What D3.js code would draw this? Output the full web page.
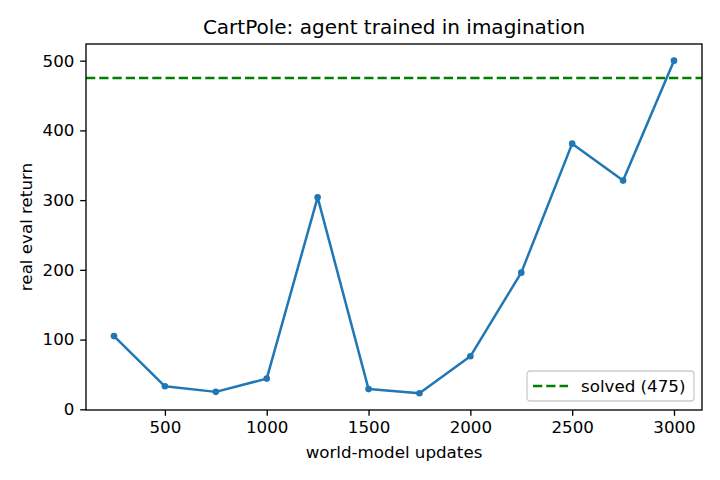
<!DOCTYPE html>
<html>
<head>
<meta charset="utf-8">
<script src="https://cdn.jsdelivr.net/npm/d3@7"></script>
<style>
  html, body { margin: 0; padding: 0; background: #fff; }
  svg { display: block; font-family: "DejaVu Sans", sans-serif; }
</style>
</head>
<body>
<div id="chart"></div>
<script>
// data
const updates = [250, 500, 750, 1000, 1250, 1500, 1750, 2000, 2250, 2500, 2750, 3000];
const returns = [105, 33, 25, 44, 304, 29, 23, 76, 196, 381, 328, 500];
const solvedLevel = 475;
const xTicks = [500, 1000, 1500, 2000, 2500, 3000];
const yTicks = [0, 100, 200, 300, 400, 500];

const width = 720, height = 480;
const margin = { top: 44, right: 18, bottom: 70, left: 86 };

const svg = d3.select("#chart").append("svg")
  .attr("width", width)
  .attr("height", height);

const x = d3.scaleLinear()
  .domain([112.5, 3137.5])
  .range([margin.left, width - margin.right]);

const y = d3.scaleLinear()
  .domain([-1, 523.9])
  .range([height - margin.bottom, margin.top]);

const blue = "#1f77b4";
const fs = "16.7px";

// axes
const xAxis = svg.append("g")
  .attr("transform", `translate(0,${height - margin.bottom})`)
  .call(d3.axisBottom(x).tickValues(xTicks).tickFormat(d3.format("d"))
    .tickSize(5.8).tickPadding(5.8).tickSizeOuter(0));

const yAxis = svg.append("g")
  .attr("transform", `translate(${margin.left},0)`)
  .call(d3.axisLeft(y).tickValues(yTicks).tickFormat(d3.format("d"))
    .tickSize(5.8).tickPadding(5.8).tickSizeOuter(0));

[xAxis, yAxis].forEach(g => {
  g.select(".domain").remove();
  g.selectAll(".tick line").attr("stroke", "#000").attr("stroke-width", 1.33);
  g.selectAll(".tick text")
    .attr("fill", "#000")
    .style("font-size", fs)
    .style("font-family", "DejaVu Sans");
});

// solved line
svg.append("line")
  .attr("x1", margin.left)
  .attr("x2", width - margin.right)
  .attr("y1", y(solvedLevel))
  .attr("y2", y(solvedLevel))
  .attr("stroke", "green")
  .attr("stroke-width", 2.5)
  .attr("stroke-dasharray", "9.25,4");

// series
const line = d3.line()
  .x((d, i) => x(updates[i]))
  .y(d => y(d));

svg.append("path")
  .datum(returns)
  .attr("fill", "none")
  .attr("stroke", blue)
  .attr("stroke-width", 2.5)
  .attr("stroke-linejoin", "round")
  .attr("d", line);

svg.selectAll(".dot")
  .data(returns)
  .enter()
  .append("circle")
  .attr("class", "dot")
  .attr("cx", (d, i) => x(updates[i]))
  .attr("cy", d => y(d))
  .attr("r", 3.3)
  .attr("fill", blue);

// frame
svg.append("rect")
  .attr("x", margin.left)
  .attr("y", margin.top)
  .attr("width", width - margin.left - margin.right)
  .attr("height", height - margin.top - margin.bottom)
  .attr("fill", "none")
  .attr("stroke", "#000")
  .attr("stroke-width", 1.33);

// title and labels
svg.append("text")
  .attr("x", (margin.left + width - margin.right) / 2)
  .attr("y", 34)
  .attr("text-anchor", "middle")
  .style("font-size", "20px")
  .text("CartPole: agent trained in imagination");

svg.append("text")
  .attr("x", (margin.left + width - margin.right) / 2)
  .attr("y", 458)
  .attr("text-anchor", "middle")
  .style("font-size", fs)
  .text("world-model updates");

svg.append("text")
  .attr("transform", `translate(32,${(margin.top + height - margin.bottom) / 2}) rotate(-90)`)
  .attr("text-anchor", "middle")
  .style("font-size", fs)
  .text("real eval return");

// legend
const lg = svg.append("g").attr("transform", "translate(527,371)");
lg.append("rect")
  .attr("width", 167)
  .attr("height", 30)
  .attr("rx", 3)
  .attr("fill", "#fff")
  .attr("fill-opacity", 0.8)
  .attr("stroke", "#ccc")
  .attr("stroke-width", 1.33);
lg.append("line")
  .attr("x1", 6).attr("x2", 41)
  .attr("y1", 15).attr("y2", 15)
  .attr("stroke", "green")
  .attr("stroke-width", 2.5)
  .attr("stroke-dasharray", "9.25,4");
lg.append("text")
  .attr("x", 54)
  .attr("y", 21)
  .style("font-size", fs)
  .text("solved (475)");
</script>
</body>
</html>
